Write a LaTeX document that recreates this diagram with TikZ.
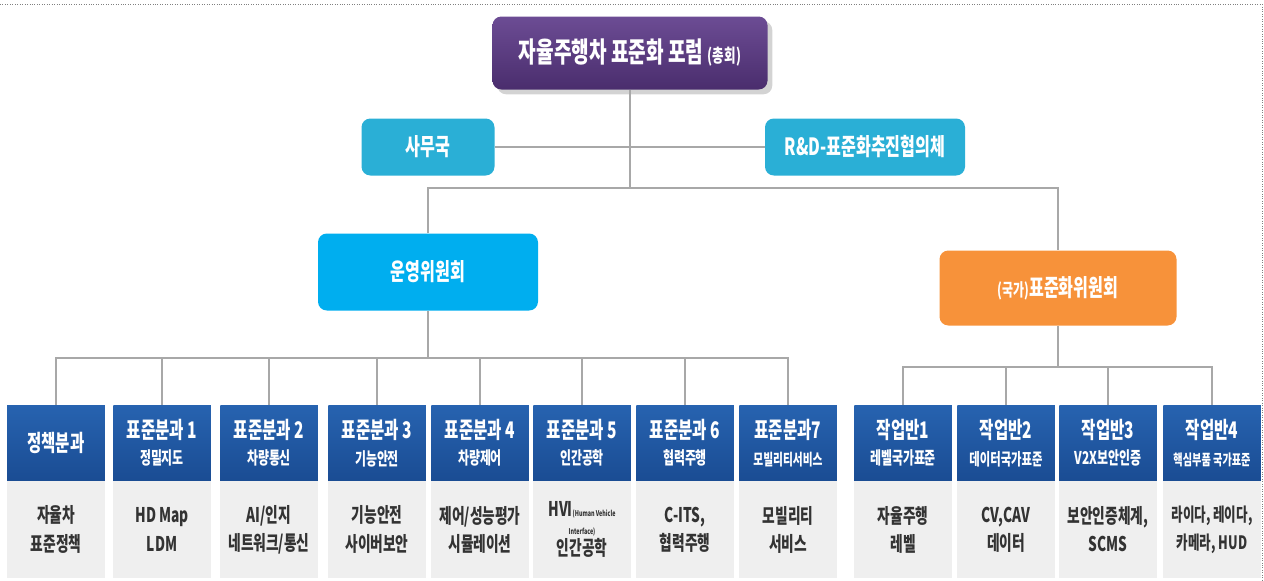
\documentclass[tikz,border=0pt]{standalone}
\usepackage{fontspec}
\setmainfont{Noto Sans CJK KR}[FakeStretch=0.68]
\usepackage{tikz}
\usetikzlibrary{positioning,shadows}

\definecolor{forumtop}{HTML}{6C4C94}
\definecolor{forumbot}{HTML}{4A2D6D}
\definecolor{officeblue}{HTML}{2AAFD6}
\definecolor{opsblue}{HTML}{00AEEF}
\definecolor{natorange}{HTML}{F7923A}
\definecolor{teamtop}{HTML}{2763B0}
\definecolor{teambot}{HTML}{1A4C93}
\definecolor{detailgray}{HTML}{EFEFEF}
\definecolor{linegray}{HTML}{A8A8A8}
\definecolor{textgray}{HTML}{333333}

\newcommand{\teamlabel}[2]{{\fontsize{13}{14}\selectfont #1}\\[3pt]{\fontsize{10}{11}\selectfont #2}}

\begin{document}
\begin{tikzpicture}[node distance=1.73cm, on grid,
    head/.style={rounded corners=5pt, text=white, font=\bfseries\fontsize{13.5}{15}\selectfont, align=center, inner sep=0pt},
    team/.style={top color=teamtop, bottom color=teambot, minimum width=1.95cm, minimum height=1.52cm, text=white, font=\bfseries, align=center, inner sep=0pt},
    detail/.style={fill=detailgray, minimum width=1.95cm, minimum height=1.94cm, text=textgray, font=\bfseries\fontsize{11.5}{16}\selectfont, align=center, inner sep=0pt},
    link/.style={draw=linegray, line width=1.3pt}]
   \useasboundingbox (0,0) rectangle (25.28,-11.6);
   \draw[densely dotted, gray] (0,-0.08) -- (25.24,-0.08) -- (25.24,-11.6);

   % top levels
   \node[head, top color=forumtop, bottom color=forumbot, drop shadow={opacity=0.35}, minimum width=5.5cm, minimum height=1.46cm, font=\bfseries\fontsize{16}{18}\selectfont] (forum) at (12.6,-1.06) {자율주행차 표준화 포럼 {\fontsize{10.5}{11}\selectfont (총회)}};
   \node[head, fill=officeblue, minimum width=2.66cm, minimum height=1.14cm] (office) at (8.56,-2.94) {사무국};
   \node[head, fill=officeblue, minimum width=4cm, minimum height=1.14cm] (rnd) at (17.3,-2.94) {R\&D-표준화추진협의체};
   \node[head, fill=opsblue, minimum width=4.4cm, minimum height=1.54cm] (ops) at (8.56,-5.44) {운영위원회};
   \node[head, fill=natorange, minimum width=4.74cm, minimum height=1.5cm] (natl) at (21.16,-5.76) {{\fontsize{10}{11}\selectfont (국가)}표준화위원회};

   \coordinate (hub) at (0,-3.76);
   \coordinate (busL) at (0,-7.16);
   \coordinate (busR) at (0,-7.34);

   % divisions
   \node[team] (div0) at (1.12,-8.86) {{\fontsize{13}{14}\selectfont 정책분과}};
   \node[team] (div1) [right=2.12cm of div0] {\teamlabel{표준분과 1}{정밀지도}};
   \node[team] (div2) [right=2.14cm of div1] {\teamlabel{표준분과 2}{차량통신}};
   \node[team] (div3) [right=2.16cm of div2] {\teamlabel{표준분과 3}{기능안전}};
   \node[team] (div4) [right=2.06cm of div3] {\teamlabel{표준분과 4}{차량제어}};
   \node[team] (div5) [right=2.04cm of div4] {\teamlabel{표준분과 5}{인간공학}};
   \node[team] (div6) [right=2.06cm of div5] {\teamlabel{표준분과 6}{협력주행}};
   \node[team] (div7) [right=2.06cm of div6] {\teamlabel{표준분과7}{\fontsize{9}{11}\selectfont 모빌리티서비스}};
   \node[team] (wg1) [right=2.3cm of div7] {\teamlabel{작업반1}{레벨국가표준}};
   \node[team] (wg2) [right=2.06cm of wg1] {\teamlabel{작업반2}{\fontsize{9.5}{11}\selectfont 데이터국가표준}};
   \node[team] (wg3) [right=2.04cm of wg2] {\teamlabel{작업반3}{V2X보안인증}};
   \node[team] (wg4) [right=2.08cm of wg3] {\teamlabel{작업반4}{\fontsize{8.5}{11}\selectfont 핵심부품 국가표준}};

   % scope of each
   \node[detail] (div0d) [below=of div0] {자율차\\표준정책};
   \node[detail] (div1d) [below=of div1] {HD Map\\LDM};
   \node[detail] (div2d) [below=of div2] {AI/인지\\네트워크/통신};
   \node[detail] (div3d) [below=of div3] {기능안전\\사이버보안};
   \node[detail] (div4d) [below=of div4] {제어/성능평가\\시뮬레이션};
   \node[detail] (div5d) [below=of div5] {HVI{\fontsize{4.5}{5}\selectfont (Human Vehicle}\\[-6pt]{\fontsize{4.5}{5}\selectfont Interface)}\\[-4pt]인간공학};
   \node[detail] (div6d) [below=of div6] {C-ITS,\\협력주행};
   \node[detail] (div7d) [below=of div7] {모빌리티\\서비스};
   \node[detail] (wg1d) [below=of wg1] {자율주행\\레벨};
   \node[detail] (wg2d) [below=of wg2] {CV,CAV\\데이터};
   \node[detail] (wg3d) [below=of wg3] {보안인증체계,\\SCMS};
   \node[detail, font=\bfseries\fontsize{10.5}{16}\selectfont] (wg4d) [below=of wg4] {라이다, 레이다,\\카메라, HUD};

   % connectors
   \draw[link] (forum.south) -- (forum.south |- hub);
   \draw[link] (office.east) -- (rnd.west);
   \draw[link] (ops.north) |- (natl.north |- hub) -- (natl.north);
   \draw[link] (ops.south) -- (ops.south |- busL);
   \draw[link] (div0.north) |- (div7.north |- busL) -- (div7.north);
   \draw[link] (div1.north) -- (div1.north |- busL)
               (div2.north) -- (div2.north |- busL)
               (div3.north) -- (div3.north |- busL)
               (div4.north) -- (div4.north |- busL)
               (div5.north) -- (div5.north |- busL)
               (div6.north) -- (div6.north |- busL);
   \draw[link] (natl.south) -- (natl.south |- busR);
   \draw[link] (wg1.north) |- (wg4.north |- busR) -- (wg4.north);
   \draw[link] (wg2.north) -- (wg2.north |- busR)
               (wg3.north) -- (wg3.north |- busR);
\end{tikzpicture}
\end{document}
